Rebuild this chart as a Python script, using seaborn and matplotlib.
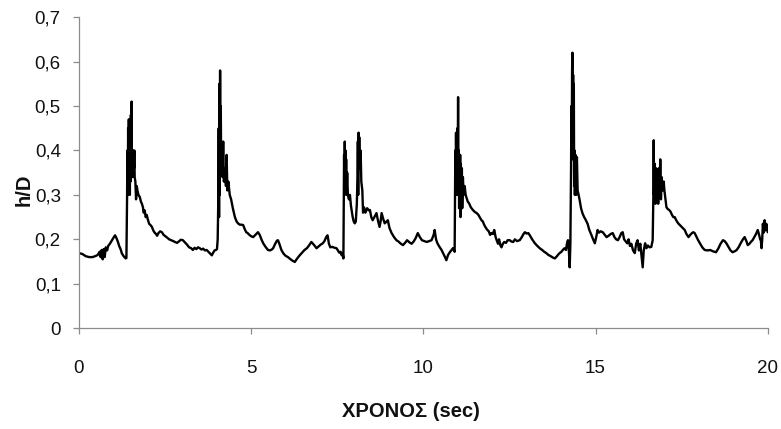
import matplotlib
matplotlib.use('Agg')
import matplotlib.pyplot as plt
import seaborn as sns

# time (sec) and h/D
t_sec = [
    0.00, 0.10, 0.20, 0.30, 0.40, 0.50, 0.55, 0.60, 0.63, 0.66, 0.69, 0.72, 0.75, 0.78, 0.82, 0.85,
    0.90, 0.96, 1.00, 1.05, 1.09, 1.13, 1.17, 1.21, 1.25, 1.30, 1.36, 1.38,
    1.40, 1.41, 1.42, 1.43, 1.44, 1.45, 1.46, 1.47, 1.48, 1.49, 1.50, 1.51, 1.52, 1.53, 1.54, 1.55,
    1.56, 1.57, 1.58, 1.59, 1.60, 1.61, 1.62, 1.64, 1.66, 1.68, 1.70, 1.73, 1.77, 1.80, 1.83, 1.86,
    1.88, 1.91, 1.94, 1.97, 2.00, 2.04, 2.08, 2.12, 2.16, 2.20, 2.24, 2.27, 2.31, 2.36, 2.41, 2.46,
    2.51, 2.56, 2.62, 2.68, 2.74, 2.79, 2.85, 2.90, 2.96, 3.02, 3.08, 3.14, 3.20,
    3.26, 3.31, 3.36, 3.41, 3.46, 3.51, 3.56, 3.61, 3.66, 3.71, 3.76, 3.81, 3.86, 3.90, 3.94, 3.98,
    4.01, 4.03,
    4.05, 4.06, 4.07, 4.08, 4.09, 4.10, 4.11, 4.12, 4.13, 4.15, 4.17, 4.19, 4.21, 4.24, 4.27, 4.29,
    4.31, 4.34, 4.38, 4.42, 4.47, 4.50, 4.53, 4.58, 4.62, 4.67, 4.72, 4.77, 4.82, 4.86, 4.90, 4.95,
    5.00, 5.06, 5.10, 5.15, 5.20, 5.25, 5.31, 5.36, 5.42, 5.49, 5.55, 5.60, 5.64, 5.70, 5.75, 5.78,
    5.82, 5.88, 5.94, 6.00, 6.07, 6.13, 6.20, 6.27, 6.33, 6.40, 6.47, 6.55, 6.62, 6.68, 6.75, 6.82,
    6.90, 6.96, 7.02, 7.08, 7.13, 7.18, 7.22, 7.26, 7.30, 7.36, 7.42, 7.48, 7.52, 7.56, 7.60, 7.63,
    7.66, 7.68,
    7.70, 7.71, 7.72, 7.73, 7.74, 7.75, 7.76, 7.77, 7.79, 7.81, 7.84, 7.87, 7.90, 7.93, 7.95, 7.98,
    8.01, 8.04, 8.07, 8.09, 8.10, 8.11, 8.12, 8.13, 8.14, 8.16, 8.18, 8.20, 8.23, 8.25, 8.28, 8.32,
    8.37, 8.42, 8.45, 8.49, 8.53, 8.58, 8.64, 8.69, 8.73, 8.76, 8.79, 8.84, 8.88, 8.93, 8.97, 9.02,
    9.08, 9.15, 9.22, 9.28, 9.35, 9.41, 9.47, 9.53, 9.60, 9.66, 9.72, 9.78, 9.84, 9.90, 9.96, 10.03,
    10.10, 10.17, 10.24, 10.30, 10.33, 10.37, 10.41, 10.47, 10.53, 10.58, 10.63, 10.67, 10.72, 10.77,
    10.82, 10.86, 10.89, 10.91,
    10.93, 10.94, 10.95, 10.96, 10.97, 10.98, 10.99, 11.00, 11.01, 11.02, 11.03, 11.04, 11.05, 11.06,
    11.07, 11.08, 11.09, 11.10, 11.12, 11.13, 11.15, 11.17, 11.20, 11.23, 11.25, 11.29, 11.33, 11.38,
    11.44, 11.49, 11.55, 11.60, 11.65, 11.69, 11.73, 11.76, 11.80, 11.85, 11.90, 11.94, 11.98, 12.02,
    12.06, 12.10, 12.13, 12.17, 12.20, 12.24, 12.27, 12.31, 12.35, 12.40, 12.45, 12.51, 12.56, 12.61,
    12.66, 12.72, 12.80, 12.86, 12.91, 12.95, 13.00, 13.05, 13.10, 13.16, 13.24, 13.30, 13.38, 13.45,
    13.51, 13.57, 13.63, 13.70, 13.76, 13.82, 13.88, 13.92, 13.96, 14.01, 14.05, 14.10, 14.14, 14.17,
    14.20, 14.23, 14.25, 14.27,
    14.29, 14.30, 14.31, 14.32, 14.33, 14.34, 14.35, 14.36, 14.37, 14.38, 14.39, 14.40, 14.42, 14.44,
    14.46, 14.48, 14.51, 14.54, 14.58, 14.62, 14.67, 14.72, 14.77, 14.82, 14.88, 14.93, 14.98, 15.02,
    15.06, 15.10, 15.15, 15.21, 15.27, 15.32, 15.38, 15.44, 15.50, 15.55, 15.60, 15.65, 15.70, 15.75,
    15.79, 15.83, 15.88, 15.92, 15.96, 16.00, 16.04, 16.09, 16.14, 16.18, 16.22, 16.26, 16.30, 16.34,
    16.37, 16.40, 16.44, 16.48, 16.52, 16.57, 16.62, 16.66,
    16.68, 16.69, 16.70, 16.72, 16.74, 16.76, 16.78, 16.80, 16.82, 16.84, 16.86, 16.88, 16.90, 16.92,
    16.95, 16.98, 17.00, 17.03, 17.06, 17.10, 17.14, 17.18, 17.22, 17.26, 17.30, 17.35, 17.40, 17.45,
    17.50, 17.55, 17.59, 17.64, 17.70, 17.75, 17.80, 17.84, 17.88, 17.93, 17.98, 18.04, 18.10, 18.17,
    18.25, 18.33, 18.41, 18.50, 18.57, 18.63, 18.70, 18.75, 18.80, 18.86, 18.92, 18.98, 19.04, 19.10,
    19.16, 19.22, 19.28, 19.33, 19.38, 19.42, 19.47, 19.52, 19.56, 19.61, 19.66, 19.71, 19.75, 19.78,
    19.80, 19.82, 19.84, 19.86, 19.88, 19.91, 19.93, 19.96, 20.00,
]

h_over_d = [
    0.169, 0.167, 0.162, 0.160, 0.160, 0.163, 0.165, 0.172, 0.160, 0.176, 0.155, 0.178, 0.160, 0.182, 0.175, 0.185,
    0.190, 0.198, 0.203, 0.209, 0.203, 0.195, 0.185, 0.178, 0.168, 0.162, 0.157, 0.158,
    0.30, 0.40, 0.30, 0.45, 0.31, 0.47, 0.32, 0.46, 0.30, 0.47, 0.33, 0.48, 0.35, 0.51, 0.36, 0.40,
    0.34, 0.40, 0.35, 0.39, 0.36, 0.40, 0.34, 0.33, 0.29, 0.32, 0.31, 0.30, 0.295, 0.285, 0.28, 0.272,
    0.26, 0.265, 0.25, 0.255, 0.245, 0.235, 0.232, 0.228, 0.22, 0.215, 0.212, 0.208, 0.214, 0.218, 0.216, 0.21,
    0.207, 0.204, 0.20, 0.198, 0.196, 0.194, 0.192, 0.195, 0.199, 0.198, 0.193, 0.188, 0.182,
    0.18, 0.176, 0.181, 0.178, 0.182, 0.18, 0.177, 0.179, 0.175, 0.176, 0.172, 0.168, 0.164, 0.17, 0.175, 0.176,
    0.178, 0.20,
    0.30, 0.45, 0.25, 0.55, 0.30, 0.58, 0.36, 0.50, 0.37, 0.40, 0.34, 0.42, 0.33, 0.36, 0.32, 0.39,
    0.31, 0.33, 0.30, 0.29, 0.27, 0.26, 0.25, 0.24, 0.236, 0.233, 0.233, 0.232, 0.222, 0.216, 0.214, 0.21,
    0.207, 0.205, 0.208, 0.212, 0.216, 0.21, 0.198, 0.19, 0.183, 0.176, 0.175, 0.177, 0.18, 0.19, 0.197, 0.198,
    0.19, 0.176, 0.168, 0.163, 0.16, 0.156, 0.152, 0.149, 0.156, 0.163, 0.169, 0.176, 0.18, 0.186, 0.194, 0.188,
    0.18, 0.184, 0.188, 0.191, 0.196, 0.205, 0.209, 0.19, 0.182, 0.183, 0.181, 0.18, 0.175, 0.17, 0.172, 0.164,
    0.168, 0.157,
    0.39, 0.30, 0.42, 0.33, 0.40, 0.31, 0.38, 0.30, 0.35, 0.30, 0.29, 0.30, 0.275, 0.26, 0.25, 0.24,
    0.236, 0.24, 0.28, 0.34, 0.42, 0.30, 0.44, 0.38, 0.43, 0.36, 0.40, 0.33, 0.31, 0.26, 0.272, 0.26,
    0.27, 0.265, 0.266, 0.25, 0.243, 0.25, 0.259, 0.24, 0.228, 0.24, 0.259, 0.245, 0.236, 0.24, 0.243, 0.225,
    0.214, 0.205, 0.198, 0.195, 0.19, 0.187, 0.192, 0.198, 0.193, 0.19, 0.195, 0.203, 0.214, 0.205, 0.198, 0.196,
    0.194, 0.196, 0.198, 0.21, 0.221, 0.20, 0.191, 0.183, 0.176, 0.168, 0.16, 0.153, 0.165, 0.171,
    0.176, 0.18, 0.175, 0.172,
    0.40, 0.30, 0.44, 0.33, 0.40, 0.30, 0.45, 0.38, 0.52, 0.36, 0.40, 0.27, 0.39, 0.32,
    0.39, 0.25, 0.37, 0.30, 0.36, 0.27, 0.34, 0.30, 0.32, 0.30, 0.295, 0.285, 0.281, 0.272,
    0.266, 0.262, 0.259, 0.255, 0.248, 0.243, 0.24, 0.234, 0.228, 0.222, 0.218, 0.21, 0.214, 0.212,
    0.221, 0.205, 0.198, 0.19, 0.20, 0.186, 0.182, 0.19, 0.194, 0.192, 0.198, 0.198, 0.195, 0.194,
    0.20, 0.196, 0.198, 0.205, 0.212, 0.216, 0.213, 0.214, 0.208, 0.20, 0.191, 0.186, 0.18, 0.176,
    0.172, 0.169, 0.165, 0.162, 0.159, 0.157, 0.162, 0.166, 0.169, 0.172, 0.176, 0.18, 0.176, 0.19,
    0.198, 0.17, 0.137, 0.19,
    0.36, 0.50, 0.38, 0.58, 0.62, 0.40, 0.57, 0.38, 0.55, 0.32, 0.40, 0.30, 0.39, 0.30,
    0.385, 0.31, 0.30, 0.288, 0.27, 0.259, 0.25, 0.243, 0.235, 0.221, 0.21, 0.20, 0.191, 0.205,
    0.221, 0.215, 0.218, 0.216, 0.21, 0.205, 0.208, 0.212, 0.214, 0.205, 0.20, 0.198, 0.205, 0.214,
    0.216, 0.20, 0.195, 0.191, 0.20, 0.185, 0.19, 0.175, 0.169, 0.19, 0.198, 0.175, 0.19, 0.16,
    0.137, 0.175, 0.191, 0.18, 0.186, 0.182, 0.183, 0.198,
    0.30, 0.423, 0.30, 0.37, 0.28, 0.36, 0.29, 0.34, 0.28, 0.36, 0.30, 0.38, 0.29, 0.34,
    0.31, 0.33, 0.31, 0.29, 0.272, 0.268, 0.266, 0.262, 0.255, 0.25, 0.25, 0.242, 0.236, 0.232,
    0.228, 0.224, 0.221, 0.212, 0.205, 0.21, 0.214, 0.216, 0.214, 0.206, 0.198, 0.19, 0.182, 0.176,
    0.175, 0.176, 0.173, 0.171, 0.18, 0.19, 0.198, 0.196, 0.191, 0.183, 0.175, 0.171, 0.173, 0.176,
    0.183, 0.192, 0.20, 0.205, 0.196, 0.187, 0.19, 0.195, 0.198, 0.205, 0.212, 0.221, 0.21, 0.20,
    0.198, 0.18, 0.20, 0.235, 0.215, 0.243, 0.22, 0.235, 0.216,
]

x_ticks = [0, 5, 10, 15, 20]
y_ticks = [0, 0.1, 0.2, 0.3, 0.4, 0.5, 0.6, 0.7]
y_tick_labels = ['0', '0,1', '0,2', '0,3', '0,4', '0,5', '0,6', '0,7']

sns.set_style('white')
plt.rcParams['font.family'] = ['Liberation Sans Narrow', 'Liberation Sans', 'DejaVu Sans']

fig = plt.figure(figsize=(7.81, 4.29), dpi=100)
ax = fig.add_axes([0.101, 0.235, 0.882, 0.725])

sns.lineplot(x=t_sec, y=h_over_d, ax=ax, color='black', linewidth=1.7,
             estimator=None, sort=False)

ax.set_xlim(0, 20)
ax.set_ylim(0, 0.7)
ax.set_xticks(x_ticks)
ax.set_xticklabels([str(v) for v in x_ticks])
ax.set_yticks(y_ticks)
ax.set_yticklabels(y_tick_labels)

sns.despine(ax=ax)
for s in ['left', 'bottom']:
    ax.spines[s].set_color('#8c8c8c')
    ax.spines[s].set_linewidth(0.9)

ax.tick_params(axis='y', direction='out', length=4, width=0.9, color='#8c8c8c',
               pad=9, labelsize=13.5, labelcolor='#111111', left=True)
ax.tick_params(axis='x', direction='out', length=4, width=0.9, color='#8c8c8c',
               pad=19, labelsize=13.5, labelcolor='#111111', bottom=True)

ax.set_xlabel('ΧΡΟΝΟΣ (sec)', fontsize=14.5, fontweight='bold', color='#111111')
ax.set_ylabel('h/D', fontsize=14.5, fontweight='bold', color='#111111')
ax.xaxis.set_label_coords(0.482, -0.238)
ax.yaxis.set_label_coords(-0.066, 0.444)

fig.savefig('out.png', dpi=100)
